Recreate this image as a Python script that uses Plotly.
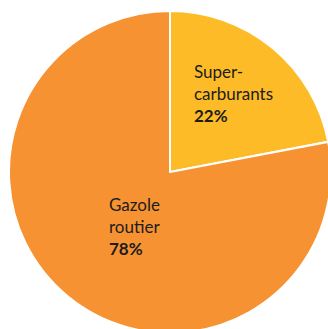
import plotly.graph_objects as go

# Fuel share of road transport consumption
labels = ["Super-<br>carburants", "Gazole<br>routier"]
shares = [22, 78]
colors = ["#FDBB27", "#F79232"]

W, H = 340, 340

fig = go.Figure(
    go.Pie(
        labels=labels,
        values=shares,
        sort=False,
        direction="clockwise",
        rotation=0,
        marker=dict(colors=colors, line=dict(color="white", width=2)),
        textinfo="none",
        hoverinfo="label+percent",
        domain=dict(x=[9 / W, 331 / W], y=[1 - 333 / H, 1 - 11 / H]),
        showlegend=False,
    )
)

# Slice labels, left-aligned, with the share in bold
label_pos = [(192 / W, 1 - 59 / H), (107 / W, 1 - 192 / H)]
for lab, val, (ax, ay) in zip(labels, shares, label_pos):
    fig.add_annotation(
        x=ax, y=ay, xref="paper", yref="paper",
        xanchor="left", yanchor="top", align="left",
        text=f"{lab}<br><b>{val}%</b>",
        showarrow=False,
        font=dict(family="Lato", size=17, color="#1c1c1c"),
    )

fig.update_layout(
    width=W, height=H,
    margin=dict(l=0, r=0, t=0, b=0),
    paper_bgcolor="white",
    plot_bgcolor="white",
)

fig.write_html("out.html", post_script="document.body.style.overflow='hidden';document.body.style.margin='0';")
